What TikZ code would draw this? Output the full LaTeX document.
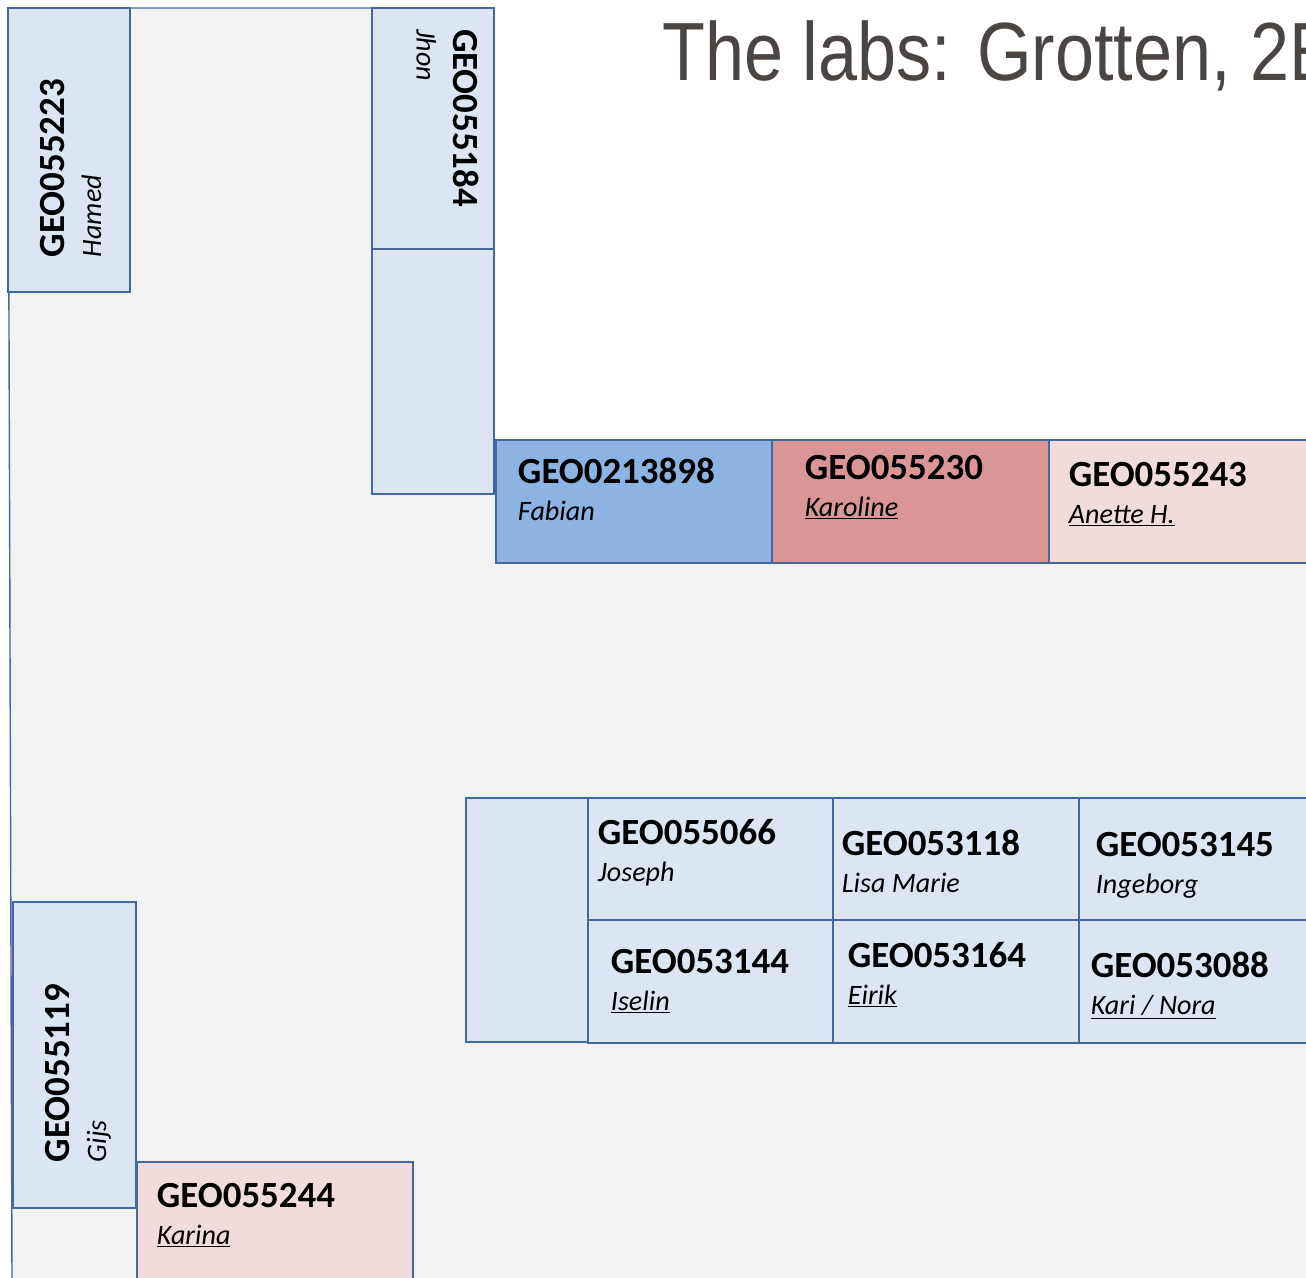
\documentclass[tikz,border=0pt]{standalone}
\usepackage{fontspec}
\setmainfont{Carlito}
\newfontfamily\titlefont[FakeStretch=0.85]{Liberation Sans}
\usepackage{tikz}
\usetikzlibrary{positioning}

\definecolor{deskline}{RGB}{68,104,158}
\definecolor{deskblue}{RGB}{220,230,242}
\definecolor{deskdark}{RGB}{141,179,226}
\definecolor{deskred}{RGB}{217,150,148}
\definecolor{deskpink}{RGB}{242,220,219}
\definecolor{floorgray}{RGB}{242,242,242}
\definecolor{titlegray}{RGB}{74,69,66}
\newcommand{\studname}[1]{{\fontsize{16}{18}\selectfont\itshape #1}}

\begin{document}
\begin{tikzpicture}[x=0.02cm,y=-0.02cm,
  desk/.style={draw=deskline,line width=1.4pt,fill=deskblue,inner sep=0pt,outer sep=0pt,anchor=north west},
  tag/.style={inner sep=0pt,outer sep=0pt,align=left,font=\fontsize{21}{21}\selectfont}]
  \useasboundingbox (0,0) rectangle (1306,1278);
  \clip (0,0) rectangle (1306,1278);
  \fill[floorgray] (8,8) -- (495,8) -- (495,440) -- (1306,440) -- (1306,1278) -- (12,1278) -- cycle;
  \draw[deskline,line width=0.8pt] (12,1278) -- (8,8) -- (495,8);

  \node[anchor=base west,inner sep=0pt,text=titlegray,font=\titlefont\fontsize{47}{50}\selectfont] (title) at (662,80) {The labs: Grotten, 2E};

  \node[desk,minimum width=2.44cm,minimum height=5.68cm] (hamed) at (8,8) {};
  \node[desk,minimum width=2.44cm,minimum height=4.82cm] (jhon) at (372,8) {};
  \node[desk,minimum width=2.44cm,minimum height=4.90cm] (jhonlow) at (jhon.south west) {};
  \node[tag,rotate=90,anchor=north west] (hamedtxt) at (40,257) {\textbf{GEO055223}\\\studname{Hamed}};
  \node[tag,rotate=-90,anchor=north west] (jhontxt) at (479,29) {\textbf{GEO055184}\\\studname{Jhon}};

  \node[desk,minimum width=5.52cm,minimum height=2.46cm,fill=deskdark] (fabian) at (496,440) {};
  \node[desk,minimum width=5.54cm,minimum height=2.46cm,fill=deskred] (karoline) at (fabian.north east) {};
  \node[desk,minimum width=5.54cm,minimum height=2.46cm,fill=deskpink] (anette) at (karoline.north east) {};
  \node[tag,below right=0.36cm and 0.44cm of fabian.north west] (fabiantxt) {\textbf{GEO0213898}\\\studname{Fabian}};
  \node[tag,below right=0.30cm and 0.66cm of karoline.north west] (karolinetxt) {\textbf{GEO055230}\\\studname{\underline{Karoline}}};
  \node[tag,below right=0.44cm and 0.40cm of anette.north west] (anettetxt) {\textbf{GEO055243}\\\studname{\underline{Anette H.}}};

  \node[desk,minimum width=2.44cm,minimum height=4.88cm] (spare) at (466,798) {};
  \node[desk,minimum width=4.90cm,minimum height=2.44cm] (joseph) at (spare.north east) {};
  \node[desk,minimum width=4.92cm,minimum height=2.44cm] (lisa) at (joseph.north east) {};
  \node[desk,minimum width=4.92cm,minimum height=2.44cm] (ingeborg) at (lisa.north east) {};
  \node[desk,minimum width=4.90cm,minimum height=2.46cm] (iselin) at (joseph.south west) {};
  \node[desk,minimum width=4.92cm,minimum height=2.46cm] (eirik) at (iselin.north east) {};
  \node[desk,minimum width=4.92cm,minimum height=2.46cm] (kari) at (eirik.north east) {};
  \node[tag,below right=0.42cm and 0.20cm of joseph.north west] (josephtxt) {\textbf{GEO055066}\\\studname{Joseph}};
  \node[tag,below right=0.64cm and 0.18cm of lisa.north west] (lisatxt) {\textbf{GEO053118}\\\studname{Lisa Marie}};
  \node[tag,below right=0.68cm and 0.34cm of ingeborg.north west] (ingeborgtxt) {\textbf{GEO053145}\\\studname{Ingeborg}};
  \node[tag,below right=0.58cm and 0.46cm of iselin.north west] (iselintxt) {\textbf{GEO053144}\\\studname{\underline{Iselin}}};
  \node[tag,below right=0.44cm and 0.30cm of eirik.north west] (eiriktxt) {\textbf{GEO053164}\\\studname{\underline{Eirik}}};
  \node[tag,below right=0.64cm and 0.24cm of kari.north west] (karitxt) {\textbf{GEO053088}\\\studname{\underline{Kari / Nora}}};

  \node[desk,minimum width=2.46cm,minimum height=6.12cm] (gijs) at (13,902) {};
  \node[desk,minimum width=5.52cm,minimum height=3.00cm,fill=deskpink] (karina) at (137,1162) {};
  \node[tag,rotate=90,anchor=north west] (gijstxt) at (45,1162) {\textbf{GEO055119}\\\studname{Gijs}};
  \node[tag,below right=0.42cm and 0.40cm of karina.north west] (karinatxt) {\textbf{GEO055244}\\\studname{\underline{Karina}}};
\end{tikzpicture}
\end{document}
